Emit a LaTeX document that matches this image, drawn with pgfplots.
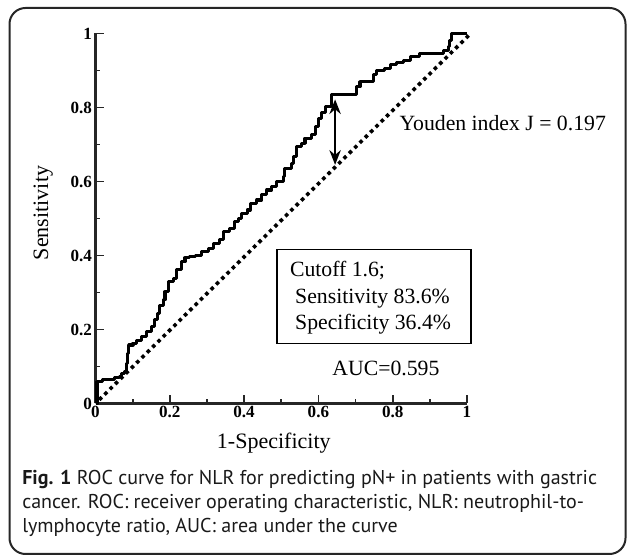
\documentclass[border=0pt]{standalone}
\usepackage{fontspec}
\setmainfont{Liberation Serif}
\newfontfamily\capfont{PT Sans}
\usepackage{pgfplots}
\pgfplotsset{compat=1.18}
\usetikzlibrary{arrows.meta}

\begin{document}
\begin{tikzpicture}[x=0.75pt,y=0.75pt]
\useasboundingbox (0,0) rectangle (627,555);
% outer frame
\draw[line width=1.5pt, black!85, rounded corners=12pt] (9.5,1) rectangle (625.5,547);
\coordinate (axorig) at (95.5,151.5);

\begin{axis}[
  at={(axorig)}, anchor=south west,
  scale only axis, width=278.6pt, height=277.5pt,
  xmin=0, xmax=1, ymin=0, ymax=1,
  axis lines=left,
  axis line style={-, line width=1.6pt, black!85},
  clip=false,
  xtick={0,0.2,0.4,0.6,0.8,1},
  ytick={0,0.2,0.4,0.6,0.8,1},
  minor tick num=1,
  tick align=inside,
  major tick length=6pt, minor tick length=3.5pt,
  tick style={line width=1.3pt, black!85},
  ticklabel style={font=\fontsize{12.8}{14}\selectfont\bfseries,
    /pgf/number format/assume math mode=true},
  xticklabel style={inner sep=2pt},
  yticklabel style={inner sep=2.5pt},
  label style={font=\fontsize{16.5}{19}\selectfont},
  xlabel={1-Specificity}, ylabel={Sensitivity},
  xlabel style={at={(axis description cs:0.48,-0.107)}, anchor=center},
  ylabel style={at={(axis description cs:-0.141,0.515)}, anchor=center},
]
% reference diagonal
\addplot[black, line width=2.7pt, dash pattern=on 2.7pt off 2.9pt]
  coordinates {(0.01,0.01) (1.01,1.0)};

% ROC curve
\addplot[black, line width=2.3pt, const plot mark left, line join=round] table {
0 0
0.004 0.059
0.02 0.064
0.047 0.065
0.052 0.071
0.065 0.072
0.07 0.08
0.077 0.086
0.083 0.109
0.086 0.136
0.089 0.158
0.101 0.163
0.11 0.17
0.123 0.18
0.137 0.194
0.15 0.209
0.159 0.226
0.166 0.244
0.172 0.266
0.182 0.28
0.187 0.302
0.196 0.329
0.21 0.338
0.219 0.361
0.232 0.383
0.241 0.394
0.254 0.397
0.268 0.401
0.286 0.41
0.304 0.419
0.317 0.433
0.335 0.442
0.344 0.464
0.36 0.473
0.373 0.491
0.386 0.5
0.394 0.514
0.408 0.523
0.416 0.541
0.434 0.55
0.447 0.564
0.461 0.577
0.474 0.586
0.488 0.6
0.506 0.613
0.51 0.636
0.528 0.649
0.532 0.667
0.542 0.694
0.555 0.703
0.564 0.717
0.582 0.726
0.591 0.748
0.6 0.771
0.608 0.787
0.618 0.802
0.636 0.836
0.703 0.856
0.712 0.87
0.748 0.888
0.757 0.901
0.779 0.906
0.793 0.915
0.811 0.921
0.829 0.928
0.847 0.937
0.873 0.946
0.936 0.955
0.95 0.964
0.954 0.982
0.959 1.0
1.0 1.0
};

% Youden arrow
\addplot[black, line width=1.7pt,
  {Stealth[length=11pt,width=8.5pt]}-{Stealth[length=11pt,width=8.5pt]}]
  coordinates {(0.645,0.822) (0.645,0.645)};

\node[anchor=base west, inner sep=0, font=\fontsize{16.3}{19}\selectfont]
  at (axis cs:0.818,0.739) {Youden index J = 0.197};

\draw[line width=1pt] (axis cs:0.489,0.163) rectangle (axis cs:1.011,0.417);
\node[anchor=base west, inner sep=0, font=\fontsize{16.3}{19}\selectfont]
  at (axis cs:0.523,0.342) {Cutoff 1.6;};
\node[anchor=base west, inner sep=0, font=\fontsize{16.3}{19}\selectfont]
  at (axis cs:0.537,0.269) {Sensitivity 83.6\%};
\node[anchor=base west, inner sep=0, font=\fontsize{16.3}{19}\selectfont]
  at (axis cs:0.537,0.201) {Specificity 36.4\%};
\node[anchor=base west, inner sep=0, font=\fontsize{16.3}{19}\selectfont]
  at (axis cs:0.637,0.077) {AUC=0.595};
\end{axis}

% caption
\begin{scope}[every node/.style={anchor=base west, inner sep=0,
    font=\capfont\fontsize{15}{18}\selectfont, text=black!90}]
\node at (22,70) {\textbf{Fig. 1} ROC curve for NLR for predicting pN+ in patients with gastric};
\node at (22,46) {cancer. ROC: receiver operating characteristic, NLR: neutrophil-to-};
\node at (22,22) {lymphocyte ratio, AUC: area under the curve};
\end{scope}
\end{tikzpicture}
\end{document}
